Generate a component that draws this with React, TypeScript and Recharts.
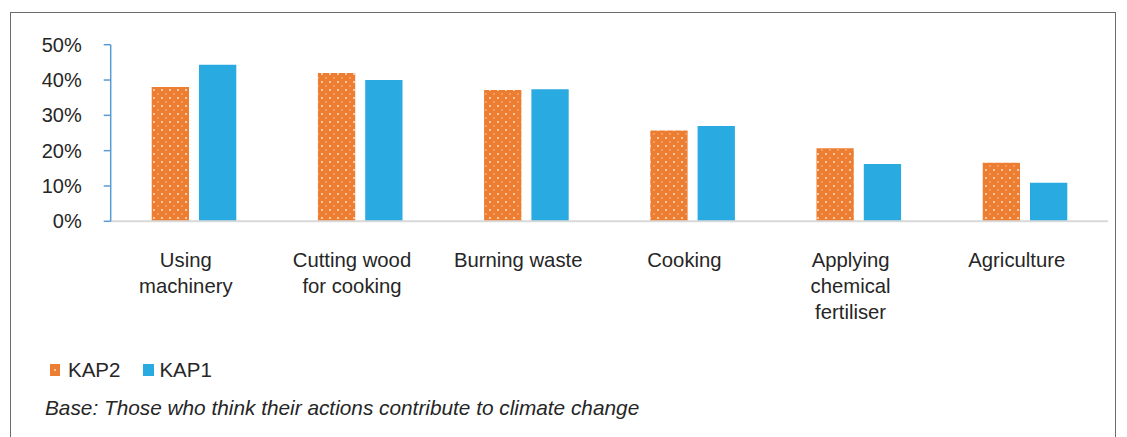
import React from "react";
import { BarChart, Bar, XAxis, YAxis } from "recharts";

const CATEGORIES = [
  "Using\nmachinery",
  "Cutting wood\nfor cooking",
  "Burning waste",
  "Cooking",
  "Applying\nchemical\nfertiliser",
  "Agriculture",
];
const KAP2 = [38, 42, 37.2, 25.7, 20.7, 16.6];
const KAP1 = [44.3, 40, 37.4, 27, 16.2, 10.9];
const Y_TICKS = [0, 10, 20, 30, 40, 50];

const ORANGE = "#ED7D31";
const BLUE = "#29ABE2";
const TEXT = "#262626";
const FONT = "'Liberation Sans', Arial, sans-serif";

const data = CATEGORIES.map((name, i) => ({
  name,
  kap2: KAP2[i],
  kap1: KAP1[i],
}));

// multi-line category label, nudged left like the original
function CategoryTick(props: any) {
  const { x, y, payload } = props;
  const lines = String(payload.value).split("\n");
  const cx = x - 8;
  return (
    <text
      x={cx}
      y={y}
      textAnchor="middle"
      fill={TEXT}
      fontSize={20.3}
      fontFamily={FONT}
    >
      {lines.map((ln, i) => (
        <tspan key={i} x={cx} dy={i === 0 ? 38 : 26}>
          {ln}
        </tspan>
      ))}
    </text>
  );
}

export default function App() {
  return (
    <div
      style={{
        position: "absolute",
        left: 0,
        top: 0,
        width: 1127,
        height: 437,
        background: "#fff",
        overflow: "hidden",
        fontFamily: FONT,
      }}
    >
      {/* frame around the figure */}
      <div
        style={{
          position: "absolute",
          left: 10,
          top: 12,
          width: 1106,
          height: 460,
          border: "1.5px solid #6b6b6b",
          boxSizing: "border-box",
        }}
      />
      <BarChart
        width={1127}
        height={437}
        data={data}
        margin={{ top: 44.7, right: 19.1, left: 0, bottom: 115.7 }}
        barGap={10}
        barSize={37.3}
        style={{ position: "absolute", left: 0, top: 0 }}
      >
        <defs>
          <pattern id="dots" width="8" height="8" patternUnits="userSpaceOnUse">
            <rect width="8" height="8" fill={ORANGE} />
            <circle cx="2" cy="2" r="1" fill="#fde3d0" />
            <circle cx="6" cy="6" r="0.8" fill="#f8c6a2" />
          </pattern>
        </defs>
        <XAxis
          dataKey="name"
          interval={0}
          height={100}
          axisLine={{ stroke: "#d9d9d9", strokeWidth: 2 }}
          tickLine={false}
          tick={<CategoryTick />}
        />
        <YAxis
          width={110.7}
          domain={[0, 50]}
          ticks={Y_TICKS}
          interval={0}
          tickFormatter={(v) => `${v}%`}
          axisLine={{ stroke: "#5b9bd5", strokeWidth: 1.5 }}
          tickLine={{ stroke: "#5b9bd5", strokeWidth: 1.5 }}
          tickSize={7}
          tickMargin={22}
          tick={{ fill: TEXT, fontSize: 20, fontFamily: FONT }}
        />
        <Bar dataKey="kap2" fill="url(#dots)" isAnimationActive={false} />
        <Bar dataKey="kap1" fill={BLUE} isAnimationActive={false} />
      </BarChart>

      {/* legend */}
      <div
        style={{
          position: "absolute",
          left: 50,
          top: 358,
          display: "flex",
          alignItems: "center",
          fontSize: 20.5,
          color: TEXT,
          lineHeight: "24px",
        }}
      >
        <svg width={10} height={12} style={{ marginRight: 8 }}>
          <rect width={10} height={12} fill={ORANGE} />
          <circle cx={5} cy={6} r={1} fill="#fde3d0" />
        </svg>
        <span>KAP2</span>
        <svg width={11} height={12} style={{ marginLeft: 23, marginRight: 5 }}>
          <rect width={11} height={12} fill={BLUE} />
        </svg>
        <span>KAP1</span>
      </div>

      <div
        style={{
          position: "absolute",
          left: 45,
          top: 396,
          fontSize: 20.8,
          fontStyle: "italic",
          color: TEXT,
        }}
      >
        Base: Those who think their actions contribute to climate change
      </div>
    </div>
  );
}
